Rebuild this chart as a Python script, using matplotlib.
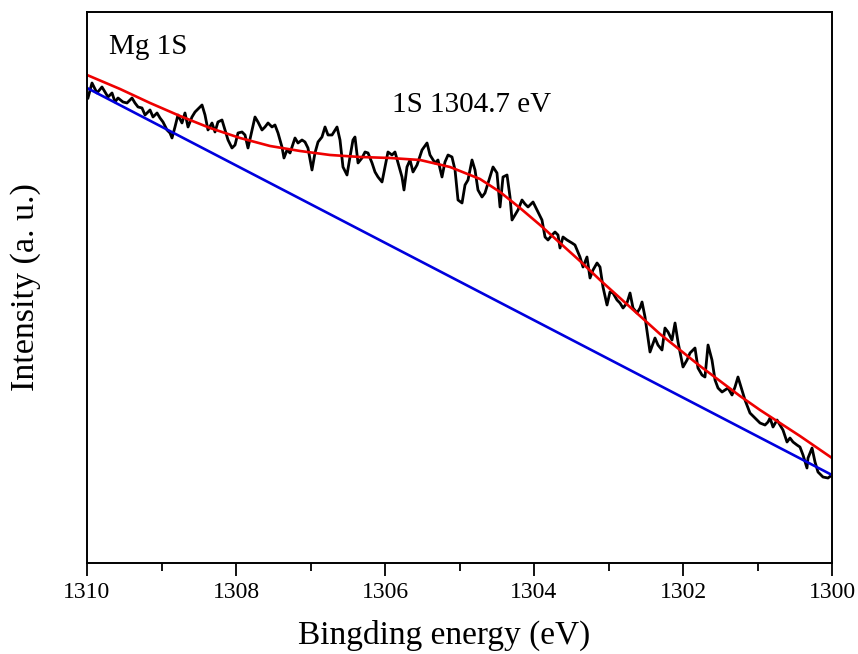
import matplotlib
matplotlib.use("Agg")
import matplotlib.pyplot as plt
from matplotlib.ticker import MultipleLocator

plt.rcParams['font.family'] = ['Liberation Serif', 'DejaVu Serif']

# Mg 1S raw spectrum (binding energy in eV, intensity in a.u.)
energia = [1309.987, 1309.933, 1309.866, 1309.799, 1309.758, 1309.718, 1309.664, 1309.624,
           1309.584, 1309.517, 1309.463, 1309.396, 1309.356, 1309.315, 1309.262, 1309.221,
           1309.154, 1309.114, 1309.060, 1309.020, 1308.980, 1308.926, 1308.886, 1308.859,
           1308.819, 1308.779, 1308.725, 1308.685, 1308.644, 1308.591, 1308.550, 1308.456,
           1308.416, 1308.376, 1308.322, 1308.282, 1308.242, 1308.188, 1308.148, 1308.107,
           1308.054, 1308.013, 1307.973, 1307.919, 1307.879, 1307.839, 1307.785, 1307.745,
           1307.705, 1307.651, 1307.611, 1307.570, 1307.517, 1307.477, 1307.436, 1307.383,
           1307.356, 1307.315, 1307.275, 1307.208, 1307.168, 1307.114, 1307.074, 1307.034,
           1306.980, 1306.940, 1306.899, 1306.846, 1306.805, 1306.765, 1306.711, 1306.644,
           1306.604, 1306.564, 1306.510, 1306.470, 1306.430, 1306.403, 1306.362, 1306.309,
           1306.268, 1306.228, 1306.174, 1306.134, 1306.094, 1306.040, 1306.000, 1305.960,
           1305.906, 1305.866, 1305.825, 1305.772, 1305.745, 1305.705, 1305.664, 1305.624,
           1305.570, 1305.503, 1305.436, 1305.396, 1305.329, 1305.289, 1305.235, 1305.195,
           1305.154, 1305.101, 1305.060, 1305.020, 1304.966, 1304.926, 1304.886, 1304.832,
           1304.792, 1304.752, 1304.698, 1304.658, 1304.617, 1304.550, 1304.497, 1304.456,
           1304.416, 1304.362, 1304.322, 1304.295, 1304.255, 1304.215, 1304.161, 1304.121,
           1304.080, 1304.013, 1303.946, 1303.893, 1303.852, 1303.812, 1303.758, 1303.718,
           1303.678, 1303.651, 1303.611, 1303.557, 1303.490, 1303.450, 1303.383, 1303.342,
           1303.289, 1303.248, 1303.208, 1303.154, 1303.114, 1303.074, 1303.020, 1302.980,
           1302.940, 1302.886, 1302.846, 1302.805, 1302.752, 1302.711, 1302.671, 1302.617,
           1302.577, 1302.550, 1302.510, 1302.443, 1302.376, 1302.336, 1302.282, 1302.242,
           1302.201, 1302.148, 1302.107, 1302.067, 1302.000, 1301.946, 1301.906, 1301.839,
           1301.799, 1301.745, 1301.705, 1301.664, 1301.611, 1301.570, 1301.530, 1301.476,
           1301.436, 1301.396, 1301.342, 1301.302, 1301.262, 1301.208, 1301.168, 1301.101,
           1301.034, 1300.966, 1300.899, 1300.859, 1300.832, 1300.792, 1300.738, 1300.698,
           1300.658, 1300.604, 1300.564, 1300.523, 1300.470, 1300.430, 1300.389, 1300.336,
           1300.322, 1300.268, 1300.228, 1300.188, 1300.121, 1300.054, 1300.000]
intensidade = [465, 480, 470, 476, 471, 466, 470, 461, 465, 461, 460, 465, 460, 456, 455, 448,
               453, 446, 450, 445, 441, 433, 430, 425, 436, 448, 440, 450, 436, 446, 451, 458,
               448, 433, 440, 431, 441, 443, 433, 423, 415, 418, 430, 431, 428, 415, 433, 446,
               441, 433, 436, 440, 436, 438, 430, 416, 405, 413, 410, 425, 420, 423, 421, 415,
               393, 410, 421, 426, 436, 428, 428, 436, 423, 396, 388, 406, 423, 426, 400, 405,
               411, 410, 400, 391, 386, 381, 396, 411, 408, 411, 400, 386, 373, 396, 403, 391,
               398, 413, 420, 408, 400, 403, 386, 401, 408, 406, 393, 363, 360, 378, 383, 403,
               393, 373, 366, 370, 380, 396, 390, 356, 386, 388, 366, 343, 348, 353, 363, 359,
               356, 361, 351, 343, 326, 323, 328, 331, 328, 315, 326, 323, 320, 318, 306, 296,
               306, 285, 293, 300, 296, 276, 258, 271, 270, 263, 260, 255, 260, 270, 255, 250,
               255, 261, 246, 211, 225, 218, 213, 235, 231, 223, 240, 221, 196, 203, 210, 215,
               195, 188, 186, 218, 203, 183, 175, 171, 173, 175, 168, 176, 186, 173, 163, 150,
               145, 140, 138, 141, 145, 136, 143, 138, 133, 121, 125, 121, 118, 116, 108, 95,
               105, 115, 101, 91, 86, 85, 88]

# envelope (fit)
energia_fit = [1310.0, 1309.557, 1309.154, 1308.752, 1308.349, 1307.946, 1307.544, 1307.141,
               1306.738, 1306.336, 1305.933, 1305.530, 1305.128, 1304.725, 1304.456, 1304.188,
               1303.919, 1303.651, 1303.383, 1303.114, 1302.846, 1302.577, 1302.309, 1302.040,
               1301.772, 1301.503, 1301.235, 1300.966, 1300.698, 1300.430, 1300.0]
intensidade_fit = [488, 474, 460, 447, 435, 425, 417, 412, 408, 406, 405, 403, 396, 384, 371, 355,
                   338, 320, 302, 283, 265, 247, 229, 213, 197, 182, 167, 153, 140, 127, 105]

# linear background
energia_fundo = [1310.0, 1300.0]
intensidade_fundo = [475, 88]

fig = plt.figure(figsize=(8.58, 6.54), dpi=100)
graf1 = fig.add_axes([0.1014, 0.1391, 0.8683, 0.8426])

graf1.plot(energia, intensidade, color='black', lw=2.0)
graf1.plot(energia_fundo, intensidade_fundo, color='#0000dd', lw=1.9)
graf1.plot(energia_fit, intensidade_fit, color='#ee0000', lw=1.9)

graf1.set_xlim(1310, 1300)
graf1.set_ylim(0, 551)
graf1.xaxis.set_major_locator(MultipleLocator(2))
graf1.xaxis.set_minor_locator(MultipleLocator(1))
graf1.tick_params(axis='x', which='major', direction='out', length=9, width=1.3, labelsize=17, pad=5)
graf1.tick_params(axis='x', which='minor', direction='out', length=5.5, width=1.3)
graf1.set_yticks([])
for lado in graf1.spines.values():
    lado.set_linewidth(1.4)

graf1.set_xlabel('Bingding energy (eV)', fontsize=24)
graf1.set_ylabel('Intensity (a. u.)', fontsize=24.5)
graf1.xaxis.set_label_coords(0.48, -0.103)
graf1.yaxis.set_label_coords(-0.062, 0.5)

graf1.text(1309.7, 516, 'Mg 1S', fontsize=21, va='center', ha='left')
graf1.text(1305.9, 458, '1S 1304.7 eV', fontsize=21, va='center', ha='left')

fig.savefig('out.png', dpi=100)
